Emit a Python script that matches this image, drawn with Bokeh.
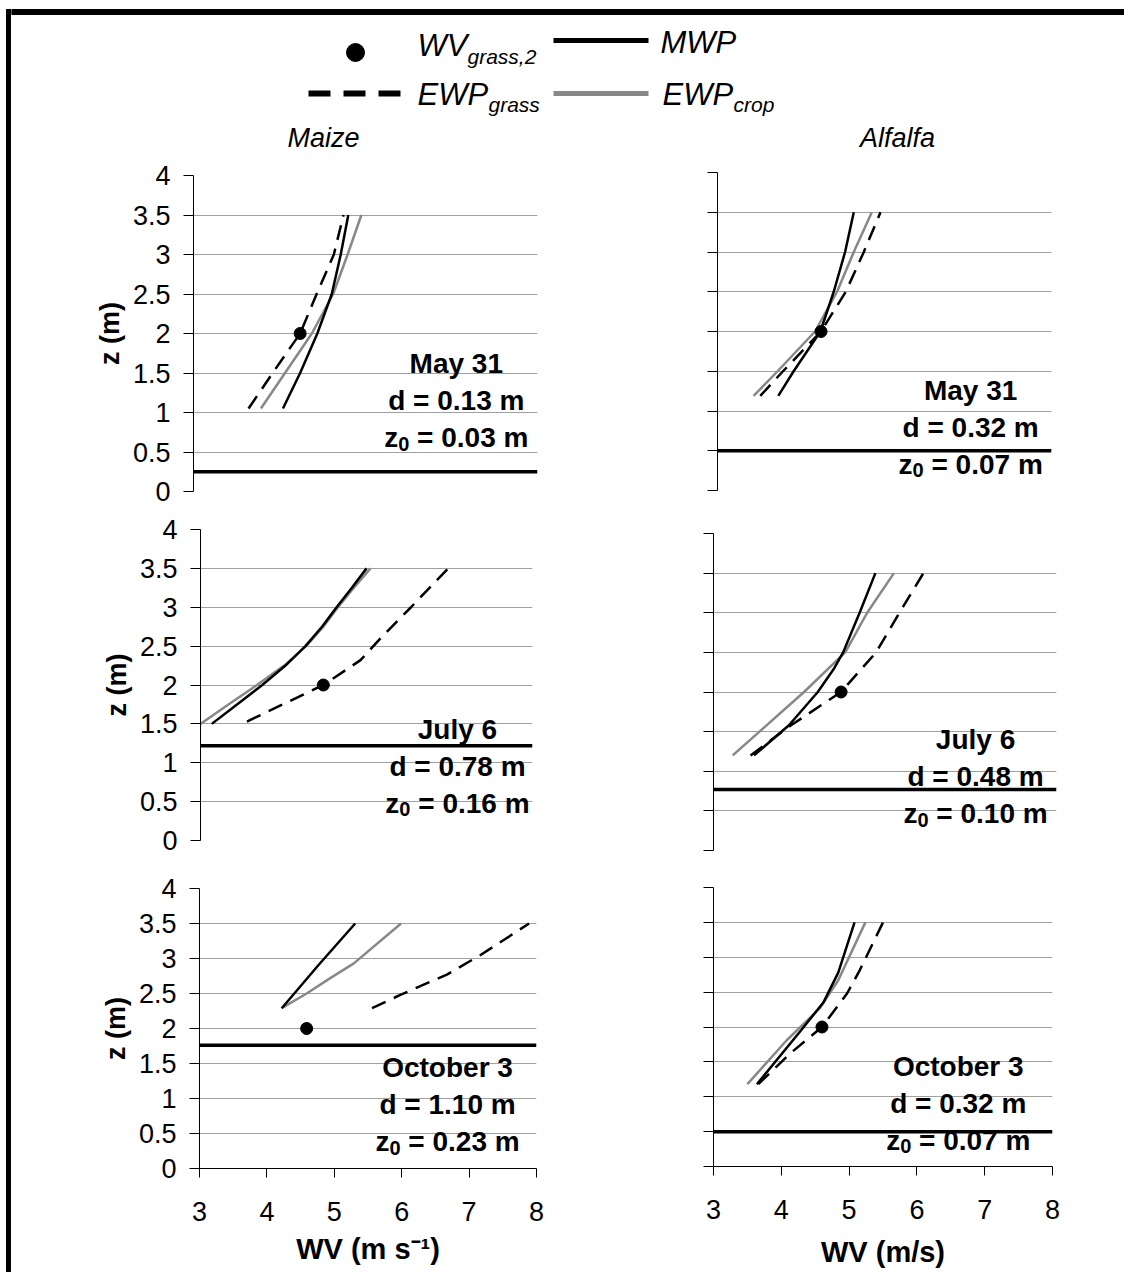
from bokeh.plotting import figure
from bokeh.models import Range1d, FixedTicker, Label, Div, Span
from bokeh.layouts import row, column
from bokeh.embed import file_html
from bokeh.resources import INLINE

FONT = "Liberation Sans"

# ---------------- data ----------------
wv_ticks = [3, 4, 5, 6, 7, 8]
wv_tick_labels = ["3", "4", "5", "6", "7", "8"]
z_ticks = [0, 0.5, 1, 1.5, 2, 2.5, 3, 3.5, 4]
z_tick_labels = ["0", "0.5", "1", "1.5", "2", "2.5", "3", "3.5", "4"]

crops = ["Maize", "Alfalfa"]
dates = ["May 31", "July 6", "October 3"]
maize_d = ["0.13", "0.78", "1.10"]
maize_z0 = ["0.03", "0.16", "0.23"]
alfalfa_d = ["0.32", "0.48", "0.32"]
alfalfa_z0 = ["0.07", "0.10", "0.07"]
maize_crop_height = [0.25, 1.22, 1.76]
alfalfa_crop_height = [0.50, 0.77, 0.50]

z_grass2 = 2.0
maize_wv_grass2 = [4.55, 4.85, 4.59]
alfalfa_wv_grass2 = [4.55, 4.86, 4.60]

# Maize, May 31
maize_may31_mwp_z = [1.05, 1.5, 2.0, 2.5, 3.0, 3.5]
maize_may31_mwp_wv = [4.30, 4.55, 4.80, 5.01, 5.14, 5.25]
maize_may31_ewpgrass_z = [1.05, 1.5, 2.0, 2.5, 3.0, 3.5]
maize_may31_ewpgrass_wv = [3.80, 4.15, 4.55, 4.79, 5.04, 5.18]
maize_may31_ewpcrop_z = [1.05, 1.5, 2.0, 2.5, 3.0, 3.5]
maize_may31_ewpcrop_wv = [3.98, 4.33, 4.72, 5.03, 5.24, 5.44]

# Maize, July 6
maize_jul6_mwp_z = [1.5, 1.75, 2.0, 2.25, 2.5, 2.75, 3.0, 3.25, 3.5]
maize_jul6_mwp_wv = [3.17, 3.55, 3.93, 4.28, 4.58, 4.83, 5.05, 5.28, 5.50]
maize_jul6_ewpgrass_z = [1.53, 2.0, 2.32, 2.6, 3.0, 3.5]
maize_jul6_ewpgrass_wv = [3.70, 4.85, 5.41, 5.71, 6.17, 6.73]
maize_jul6_ewpcrop_z = [1.5, 1.75, 2.0, 2.25, 2.5, 2.75, 3.0, 3.25, 3.5]
maize_jul6_ewpcrop_wv = [3.00, 3.42, 3.85, 4.26, 4.59, 4.85, 5.07, 5.31, 5.56]

# Maize, October 3
maize_oct3_mwp_z = [2.29, 2.9, 3.5]
maize_oct3_mwp_wv = [4.22, 4.76, 5.31]
maize_oct3_ewpgrass_z = [2.29, 2.48, 2.77, 3.05, 3.5]
maize_oct3_ewpgrass_wv = [5.56, 5.98, 6.67, 7.17, 7.89]
maize_oct3_ewpcrop_z = [2.29, 2.5, 2.72, 2.93, 3.5]
maize_oct3_ewpcrop_wv = [4.22, 4.59, 4.94, 5.29, 5.99]

# Alfalfa, May 31
alfalfa_may31_mwp_z = [1.19, 1.5, 2.0, 2.5, 3.0, 3.5]
alfalfa_may31_mwp_wv = [3.91, 4.14, 4.54, 4.74, 4.91, 5.04]
alfalfa_may31_ewpgrass_z = [1.19, 1.5, 2.0, 2.5, 3.0, 3.5]
alfalfa_may31_ewpgrass_wv = [3.64, 3.98, 4.55, 4.92, 5.19, 5.44]
alfalfa_may31_ewpcrop_z = [1.19, 1.5, 2.0, 2.5, 3.0, 3.5]
alfalfa_may31_ewpcrop_wv = [3.54, 3.90, 4.46, 4.79, 5.04, 5.31]

# Alfalfa, July 6
alfalfa_jul6_mwp_z = [1.2, 1.58, 2.0, 2.3, 2.5, 3.0, 3.5]
alfalfa_jul6_mwp_wv = [3.59, 4.10, 4.52, 4.76, 4.89, 5.13, 5.36]
alfalfa_jul6_ewpgrass_z = [1.2, 1.58, 2.0, 2.5, 3.0, 3.5]
alfalfa_jul6_ewpgrass_wv = [3.54, 4.13, 4.86, 5.37, 5.71, 6.06]
alfalfa_jul6_ewpcrop_z = [1.2, 1.5, 2.0, 2.5, 3.0, 3.5]
alfalfa_jul6_ewpcrop_wv = [3.28, 3.67, 4.32, 4.92, 5.24, 5.63]

# Alfalfa, October 3
alfalfa_oct3_mwp_z = [1.18, 1.94, 2.35, 2.78, 3.5]
alfalfa_oct3_mwp_wv = [3.64, 4.28, 4.62, 4.84, 5.08]
alfalfa_oct3_ewpgrass_z = [1.18, 1.62, 2.0, 2.48, 2.82, 3.5]
alfalfa_oct3_ewpgrass_wv = [3.66, 4.13, 4.60, 4.97, 5.16, 5.50]
alfalfa_oct3_ewpcrop_z = [1.18, 1.81, 2.27, 2.67, 3.5]
alfalfa_oct3_ewpcrop_wv = [3.50, 4.08, 4.57, 4.84, 5.24]

# ---------------- styling / layout (page pixel coordinates) ----------------
BLACK = "black"
GRAY = "#888888"
GRID = "#a0a0a0"

STRIP_LEFT, STRIP_W, STRIP_TOP = 6, 5, 9
COL_X0 = STRIP_LEFT + STRIP_W          # page x where the chart column starts
SPLIT_X = 620                           # page x between maize and alfalfa figures
RIGHT_END = 1124
TOP_H = 154
LEFT_W = SPLIT_X - COL_X0
RIGHT_W = RIGHT_END - SPLIT_X
TW = RIGHT_END - COL_X0
ROW_BB = [16, 16, 103]                  # common bottom border per row

# frame boxes (left, right, top, bottom) in page pixels
FRAME = {
    ("Maize", 0): (193, 537, 175, 491),
    ("Maize", 1): (200, 532, 529, 840),
    ("Maize", 2): (199, 536, 888, 1169),
    ("Alfalfa", 0): (717, 1051, 172, 490),
    ("Alfalfa", 1): (713, 1056, 533, 850),
    ("Alfalfa", 2): (713, 1052, 887, 1167),
}
# annotation: (x centre in data, z of first line in data)
ANNOT = {
    ("Maize", 0): (6.82, 1.62),
    ("Maize", 1): (6.87, 1.43),
    ("Maize", 2): (6.68, 1.44),
    ("Alfalfa", 0): (6.79, 1.26),
    ("Alfalfa", 1): (6.82, 1.40),
    ("Alfalfa", 2): (6.61, 1.44),
}

BOLD_W = {" ": 278, "=": 584, ".": 278, "m": 889, "d": 611, "z": 500}
for ch in "0123456789":
    BOLD_W[ch] = 556


def bold_width(s, size):
    return sum(BOLD_W.get(c, 556) for c in s) / 1000.0 * size


def make_panel(crop, i, row_top, bt, bb, curves, dot_wv, crop_h, d_txt, z0_txt):
    fl, fr, ft, fb = FRAME[(crop, i)]
    x0 = COL_X0 if crop == "Maize" else SPLIT_X
    w = LEFT_W if crop == "Maize" else RIGHT_W
    mt = ft - row_top - bt
    h = bt + (fb - ft) + bb
    bl = fl - x0
    br = (x0 + w) - fr
    bottom = (i == 2)
    p = figure(width=w, height=h, x_range=Range1d(3, 8), y_range=Range1d(0, 4),
               toolbar_location=None, output_backend="svg",
               x_axis_location="below" if bottom else None, y_axis_location="left",
               min_border_left=bl, min_border_right=br,
               min_border_top=bt, min_border_bottom=bb,
               margin=(mt, 0, 0, 0))
    p.outline_line_color = None
    p.background_fill_color = "white"
    p.border_fill_color = "white"

    yax = p.yaxis[0]
    yax.ticker = FixedTicker(ticks=z_ticks)
    if crop == "Maize":
        yax.major_label_overrides = {t: s for t, s in zip(z_ticks, z_tick_labels)}
        yax.axis_label = "z (m)"
    else:
        yax.major_label_overrides = {t: "" for t in z_ticks}
    yax.major_label_text_font = FONT
    yax.major_label_text_font_size = "27px"
    yax.major_label_text_color = BLACK
    yax.major_label_standoff = 13
    yax.axis_label_text_font = FONT
    yax.axis_label_text_font_size = "27px"
    yax.axis_label_text_font_style = "bold"
    yax.axis_label_text_color = BLACK
    yax.axis_label_standoff = 5
    yax.axis_line_color = BLACK
    yax.axis_line_width = 1
    yax.major_tick_line_color = BLACK
    yax.major_tick_out = 10
    yax.major_tick_in = 0
    yax.minor_tick_line_color = None

    if bottom:
        xax = p.xaxis[0]
        xax.ticker = FixedTicker(ticks=wv_ticks)
        xax.major_label_overrides = {t: s for t, s in zip(wv_ticks, wv_tick_labels)}
        xax.major_label_text_font = FONT
        xax.major_label_text_font_size = "27px"
        xax.major_label_text_color = BLACK
        xax.major_label_standoff = 24
        xax.axis_label = "WV (m s\u207b\u00b9)" if crop == "Maize" else "WV (m/s)"
        xax.axis_label_text_font = FONT
        xax.axis_label_text_font_size = "29px"
        xax.axis_label_text_font_style = "bold"
        xax.axis_label_text_color = BLACK
        xax.axis_label_standoff = 9 if crop == "Maize" else 14
        xax.axis_line_color = BLACK
        xax.major_tick_line_color = BLACK
        xax.major_tick_out = 9
        xax.major_tick_in = 0
        xax.minor_tick_line_color = None

    p.ygrid.ticker = FixedTicker(ticks=z_ticks[1:])
    p.ygrid.grid_line_color = GRID
    p.ygrid.grid_line_width = 1
    p.xgrid.ticker = FixedTicker(ticks=[wv_ticks[-1]])
    p.xgrid.grid_line_color = GRID
    p.xgrid.grid_line_width = 1.5

    p.add_layout(Span(location=crop_h, dimension="width", line_color=BLACK, line_width=3.5))

    (mz, mwv), (gz, gwv), (cz, cwv) = curves
    p.line(x=gwv, y=gz, line_color=BLACK, line_width=2.5, line_dash="15 9")
    p.line(x=cwv, y=cz, line_color=GRAY, line_width=2.5)
    p.line(x=mwv, y=mz, line_color=BLACK, line_width=2.5)
    p.scatter(x=[dot_wv], y=[z_grass2], size=12, color=BLACK)

    ax, az = ANNOT[(crop, i)]
    fs = 28
    common = dict(text_font=FONT, text_font_style="bold", text_color=BLACK,
                  text_baseline="middle")
    p.add_layout(Label(x=ax, y=az, text=dates[i], text_align="center",
                       text_font_size=f"{fs}px", **common))
    p.add_layout(Label(x=ax, y=az, y_offset=-37, text=f"d = {d_txt} m",
                       text_align="center", text_font_size=f"{fs}px", **common))
    tail = f"= {z0_txt} m"
    sub_fs = 20
    wz = bold_width("z", fs)
    ws = bold_width("0", sub_fs)
    wsp = bold_width(" ", fs)
    wt = bold_width(tail, fs)
    xs = -(wz + ws + wsp + wt) / 2.0
    p.add_layout(Label(x=ax, y=az, x_offset=xs, y_offset=-74, text="z",
                       text_align="left", text_font_size=f"{fs}px", **common))
    p.add_layout(Label(x=ax, y=az, x_offset=xs + wz, y_offset=-80, text="0",
                       text_align="left", text_font_size=f"{sub_fs}px", **common))
    p.add_layout(Label(x=ax, y=az, x_offset=xs + wz + ws + wsp, y_offset=-74, text=tail,
                       text_align="left", text_font_size=f"{fs}px", **common))
    return p, mt + h


panels = {
    ("Maize", 0): ((maize_may31_mwp_z, maize_may31_mwp_wv),
                   (maize_may31_ewpgrass_z, maize_may31_ewpgrass_wv),
                   (maize_may31_ewpcrop_z, maize_may31_ewpcrop_wv)),
    ("Maize", 1): ((maize_jul6_mwp_z, maize_jul6_mwp_wv),
                   (maize_jul6_ewpgrass_z, maize_jul6_ewpgrass_wv),
                   (maize_jul6_ewpcrop_z, maize_jul6_ewpcrop_wv)),
    ("Maize", 2): ((maize_oct3_mwp_z, maize_oct3_mwp_wv),
                   (maize_oct3_ewpgrass_z, maize_oct3_ewpgrass_wv),
                   (maize_oct3_ewpcrop_z, maize_oct3_ewpcrop_wv)),
    ("Alfalfa", 0): ((alfalfa_may31_mwp_z, alfalfa_may31_mwp_wv),
                     (alfalfa_may31_ewpgrass_z, alfalfa_may31_ewpgrass_wv),
                     (alfalfa_may31_ewpcrop_z, alfalfa_may31_ewpcrop_wv)),
    ("Alfalfa", 1): ((alfalfa_jul6_mwp_z, alfalfa_jul6_mwp_wv),
                     (alfalfa_jul6_ewpgrass_z, alfalfa_jul6_ewpgrass_wv),
                     (alfalfa_jul6_ewpcrop_z, alfalfa_jul6_ewpcrop_wv)),
    ("Alfalfa", 2): ((alfalfa_oct3_mwp_z, alfalfa_oct3_mwp_wv),
                     (alfalfa_oct3_ewpgrass_z, alfalfa_oct3_ewpgrass_wv),
                     (alfalfa_oct3_ewpcrop_z, alfalfa_oct3_ewpcrop_wv)),
}

rows = []
row_top = TOP_H
for i in range(3):
    bt = min(FRAME[("Maize", i)][2], FRAME[("Alfalfa", i)][2]) - row_top
    bb = ROW_BB[i]
    left, ext_l = make_panel("Maize", i, row_top, bt, bb, panels[("Maize", i)],
                             maize_wv_grass2[i], maize_crop_height[i], maize_d[i], maize_z0[i])
    right, ext_r = make_panel("Alfalfa", i, row_top, bt, bb, panels[("Alfalfa", i)],
                              alfalfa_wv_grass2[i], alfalfa_crop_height[i], alfalfa_d[i],
                              alfalfa_z0[i])
    rows.append(row(left, right))
    row_top += max(ext_l, ext_r)

TOTAL_H = row_top

# ---------------- header: border, legend, column titles ----------------
# header coordinates: x = page_x - COL_X0, y = page_y (downwards)
top = figure(width=TW, height=TOP_H, x_range=Range1d(0, TW), y_range=Range1d(TOP_H, 0),
             toolbar_location=None, output_backend="svg", min_border=0,
             x_axis_location=None, y_axis_location=None)
top.grid.visible = False
top.outline_line_color = None
top.quad(left=[0], right=[TW], top=[STRIP_TOP], bottom=[STRIP_TOP + 5], color=BLACK)


def hx(page_x):
    return page_x - COL_X0


top.scatter(x=[hx(355)], y=[52], size=18, color=BLACK)
top.line(x=[hx(553), hx(648)], y=[40, 40], line_width=5, line_color=BLACK)
top.line(x=[hx(308), hx(400)], y=[93, 93], line_width=6, line_color=BLACK, line_dash="22 13")
top.line(x=[hx(553), hx(648)], y=[93, 93], line_width=5, line_color=GRAY)

legend_texts = [
    # (page_x, page_y of text middle, text, size)
    (417, 45, "WV", 31), (467, 56, "grass,2", 21),
    (660, 42, "MWP", 31),
    (417, 94, "EWP", 31), (488, 104, "grass", 21),
    (662, 94, "EWP", 31), (733, 104, "crop", 21),
]
for px, py, t, s in legend_texts:
    top.add_layout(Label(x=hx(px), y=py, text=t, text_font=FONT, text_font_style="italic",
                         text_font_size=f"{s}px", text_color=BLACK,
                         text_baseline="middle", text_align="left"))

for px, t in zip([323, 897], crops):
    top.add_layout(Label(x=hx(px), y=137, text=t, text_font=FONT, text_font_style="italic",
                         text_font_size="27px", text_color=BLACK,
                         text_baseline="middle", text_align="center"))

strip = Div(width=STRIP_W, height=TOTAL_H - STRIP_TOP, text="",
            margin=(STRIP_TOP, 0, 0, STRIP_LEFT),
            styles={"background-color": "black"})

layout = row(strip, column(top, *rows))

with open("out.html", "w") as f:
    f.write(file_html(layout, INLINE, title="Wind profiles"))
